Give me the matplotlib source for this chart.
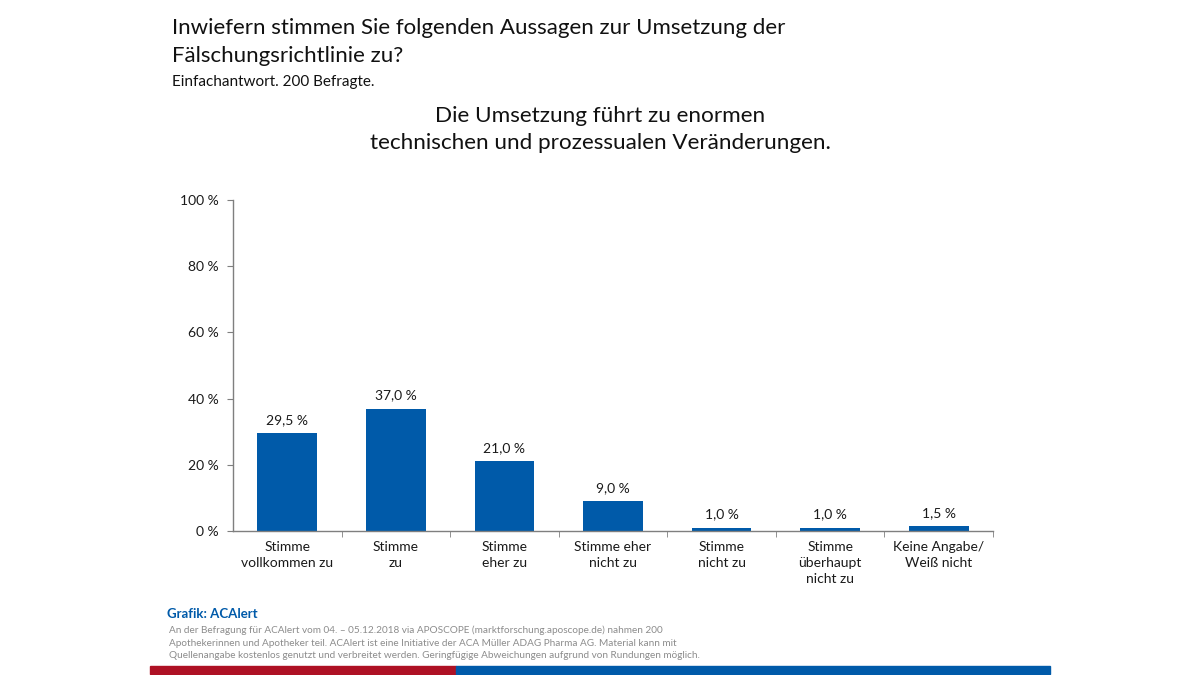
import matplotlib.pyplot as plt
from matplotlib.patches import Rectangle

plt.rcParams['font.family'] = ['Lato', 'DejaVu Sans']

categories = ["Stimme\nvollkommen zu", "Stimme\nzu", "Stimme\neher zu",
              "Stimme eher\nnicht zu", "Stimme\nnicht zu",
              "Stimme\nüberhaupt\nnicht zu", "Keine Angabe/\nWeiß nicht"]
values = [29.5, 37.0, 21.0, 9.0, 1.0, 1.0, 1.5]
yticks = [0, 20, 40, 60, 80, 100]

title_lines = ["Inwiefern stimmen Sie folgenden Aussagen zur Umsetzung der",
               "Fälschungsrichtlinie zu?"]
chart_lines = ["Die Umsetzung führt zu enormen",
               "technischen und prozessualen Veränderungen."]
footer_lines = ["An der Befragung für ACAlert vom 04. – 05.12.2018 via APOSCOPE (marktforschung.aposcope.de) nahmen 200",
                "Apothekerinnen und Apotheker teil. ACAlert ist eine Initiative der ACA Müller ADAG Pharma AG. Material kann mit",
                "Quellenangabe kostenlos genutzt und verbreitet werden. Geringfügige Abweichungen aufgrund von Rundungen möglich."]

blue = '#005AA9'
red = '#AE1124'
axis_gray = '#7f7f7f'

fig = plt.figure(figsize=(12, 6.75), dpi=100)
ax = fig.add_axes([233 / 1200, 1 - 531 / 675, (993 - 233) / 1200, (531 - 200) / 675])

x = list(range(len(categories)))
ax.bar(x, values, width=0.55, color=blue, zorder=2)
for xi, v in zip(x, values):
    ax.text(xi, v + 2.2, f"{v:.1f} %".replace('.', ','), ha='center', va='bottom',
            fontsize=10, color='#1a1a1a')

ax.set_xlim(-0.5, len(categories) - 0.5)
ax.set_ylim(0, 100)
ax.set_yticks(yticks)
ax.set_yticklabels([f"{t} %" for t in yticks], fontsize=10, color='#1a1a1a')
ax.set_xticks(x)
ax.set_xticklabels(categories, fontsize=10, color='#1a1a1a', linespacing=1.4)
ax.set_xticks([i + 0.5 for i in x], minor=True)
ax.tick_params(axis='x', which='major', length=0, pad=7)
ax.tick_params(axis='x', which='minor', length=4, color=axis_gray, direction='out')
ax.tick_params(axis='y', length=4, color=axis_gray, pad=6)
for s in ['top', 'right']:
    ax.spines[s].set_visible(False)
for s in ['left', 'bottom']:
    ax.spines[s].set_color(axis_gray)
    ax.spines[s].set_linewidth(1)

for i, line in enumerate(title_lines):
    fig.text(172 / 1200, 1 - (28 + 28 * i) / 675, line, fontsize=16, va='center',
             ha='left', color='#111111')
fig.text(172 / 1200, 1 - 82 / 675, "Einfachantwort. 200 Befragte.", fontsize=11, va='center',
         ha='left', color='#111111')
for i, line in enumerate(chart_lines):
    fig.text(600 / 1200, 1 - (116 + 27 * i) / 675, line, fontsize=16.2, va='center',
             ha='center', color='#111111')

fig.text(167 / 1200, 1 - 614 / 675, "Grafik: ACAlert", fontsize=9.5, fontweight='bold',
         color=blue, va='center', ha='left')
for i, line in enumerate(footer_lines):
    fig.text(169 / 1200, 1 - (630 + 13 * i) / 675, line, fontsize=7.2, color='#8c8c8c',
             va='center', ha='left')

fig.patches.append(Rectangle((150 / 1200, 1 - 674 / 675), 306 / 1200, 8 / 675,
                             transform=fig.transFigure, color=red, zorder=5))
fig.patches.append(Rectangle((456 / 1200, 1 - 674 / 675), 594 / 1200, 8 / 675,
                             transform=fig.transFigure, color=blue, zorder=5))

fig.savefig('out.png', dpi=100)
